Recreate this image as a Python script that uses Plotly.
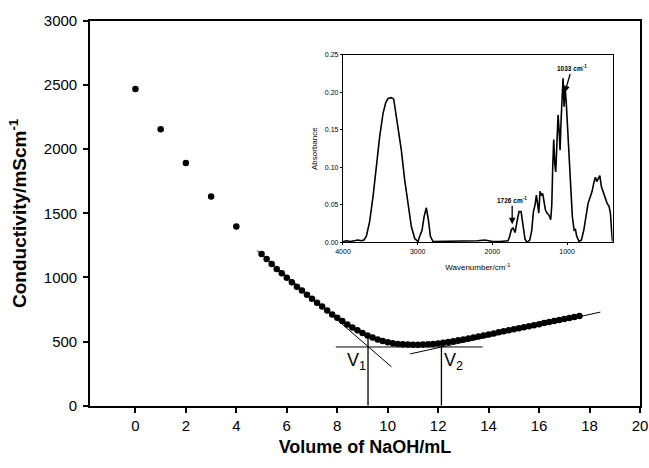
import plotly.graph_objects as go

FONT = "Liberation Sans, Arial, sans-serif"

# ---- main titration data ----
vol_sparse = [0, 1, 2, 3, 4]
cond_sparse = [2470, 2155, 1893, 1632, 1398]

vol_dense = [5.0, 5.2, 5.4, 5.6, 5.8, 6.0, 6.2, 6.4, 6.6, 6.8,
             7.0, 7.2, 7.4, 7.6, 7.8, 8.0, 8.2, 8.4, 8.6, 8.8,
             9.0, 9.2, 9.4, 9.6, 9.8, 10.0, 10.2, 10.4, 10.6, 10.8,
             11.0, 11.2, 11.4, 11.6, 11.8, 12.0, 12.2, 12.4, 12.6, 12.8,
             13.0, 13.2, 13.4, 13.6, 13.8, 14.0, 14.2, 14.4, 14.6, 14.8,
             15.0, 15.2, 15.4, 15.6, 15.8, 16.0, 16.2, 16.4, 16.6, 16.8,
             17.0, 17.2, 17.4, 17.6]
cond_dense = [1183, 1144, 1105, 1067, 1033, 997, 963, 928, 898, 865,
              834, 803, 774, 743, 712, 686, 660, 634, 609, 588,
              567, 547, 531, 516, 505, 495, 487, 481, 479, 477,
              476, 476, 477, 479, 482, 486, 491, 497, 503, 510,
              517, 524, 532, 540, 548, 556, 564, 572, 580, 588,
              596, 604, 612, 620, 628, 636, 644, 652, 660, 668,
              676, 684, 692, 700]

# construction lines (data coordinates)
tangent1_x = [4.83, 10.15]
tangent1_y = [1209, 303]
tangent2_x = [10.89, 18.43]
tangent2_y = [404, 730]
horiz_x = [7.94, 13.76]
horiz_y = [458, 458]
v1_x = [9.22, 9.22]
v1_y = [0, 541]
v2_x = [12.13, 12.13]
v2_y = [0, 471]

x_ticks = [0, 2, 4, 6, 8, 10, 12, 14, 16, 18, 20]
y_ticks = [0, 500, 1000, 1500, 2000, 2500, 3000]

# ---- inset IR spectrum ----
wavenumber = [4000, 3950, 3900, 3850, 3800, 3754, 3720, 3687, 3643, 3598, 3554, 3509,
              3464, 3429, 3397, 3353, 3321, 3295, 3272, 3250, 3219, 3174, 3129,
              3085, 3040, 2996, 2973, 2942, 2915, 2884, 2857, 2830, 2795,
              2600, 2400, 2200, 2100, 2000, 1900, 1790, 1768, 1746, 1723, 1696,
              1670, 1643, 1616, 1589, 1563, 1536, 1500, 1473, 1451, 1429, 1411,
              1393, 1379, 1362, 1344, 1326, 1308, 1290, 1268, 1241, 1219, 1205,
              1192, 1179, 1165, 1152, 1134, 1121, 1107, 1094, 1080, 1067, 1054,
              1040, 1027, 1013, 996, 973, 951, 929, 906, 888, 871, 839, 808,
              777, 750, 719, 688, 665, 643, 621, 603, 580, 562, 540, 518, 491,
              464, 438, 420, 402, 393]
absorbance = [0.001, 0.002, 0.001, 0.002, 0.003, 0.002, 0.003, 0.008, 0.028, 0.061, 0.101, 0.141,
              0.172, 0.186, 0.192, 0.193, 0.191, 0.174, 0.159, 0.148, 0.123, 0.083, 0.048,
              0.021, 0.005, 0.001, 0.008, 0.016, 0.034, 0.046, 0.030, 0.008, 0.001,
              0.001, 0.001, 0.002, 0.003, 0.001, 0.001, 0.002, 0.008, 0.017, 0.019, 0.013,
              0.028, 0.041, 0.041, 0.023, 0.004, 0.000, 0.003, 0.016, 0.041, 0.050, 0.063,
              0.050, 0.039, 0.068, 0.063, 0.065, 0.052, 0.043, 0.039, 0.036, 0.030, 0.050,
              0.101, 0.137, 0.105, 0.094, 0.137, 0.170, 0.150, 0.123, 0.164, 0.194, 0.219,
              0.181, 0.206, 0.190, 0.154, 0.114, 0.074, 0.034, 0.016, 0.017, 0.008, 0.001, 0.003,
              0.016, 0.034, 0.052, 0.061, 0.068, 0.079, 0.087, 0.081, 0.085, 0.089, 0.074, 0.068, 0.061,
              0.052, 0.048, 0.039, 0.012, 0.001]

ir_x_ticks = [4000, 3000, 2000, 1000]
ir_y_ticks = [0.00, 0.05, 0.10, 0.15, 0.20, 0.25]

fig = go.Figure()

line_style = dict(color="black", width=1)
for xs, ys in [(tangent1_x, tangent1_y), (tangent2_x, tangent2_y), (horiz_x, horiz_y)]:
    fig.add_trace(go.Scatter(x=xs, y=ys, mode="lines", line=line_style,
                             showlegend=False, hoverinfo="skip"))
for xs, ys in [(v1_x, v1_y), (v2_x, v2_y)]:
    fig.add_trace(go.Scatter(x=xs, y=ys, mode="lines", line=dict(color="black", width=1.3),
                             showlegend=False, hoverinfo="skip"))

fig.add_trace(go.Scatter(x=vol_sparse + vol_dense, y=cond_sparse + cond_dense,
                         mode="markers", marker=dict(color="black", size=6.5, line=dict(width=0)),
                         showlegend=False))

fig.add_trace(go.Scatter(x=wavenumber, y=absorbance, mode="lines",
                         line=dict(color="black", width=1.6),
                         xaxis="x2", yaxis="y2", showlegend=False))

fig.update_layout(
    width=649, height=468,
    margin=dict(l=0, r=0, t=0, b=0, autoexpand=False),
    paper_bgcolor="white", plot_bgcolor="rgba(0,0,0,0)",
    font=dict(family=FONT, color="black"),
    xaxis=dict(domain=[0.1387, 0.9861], range=[-1.8, 20], tickvals=x_ticks,
               automargin=False,
               showline=True, mirror=True, linecolor="black", linewidth=1.6,
               ticks="outside", ticklen=5, tickwidth=1.5, tickcolor="black",
               showgrid=False, zeroline=False,
               tickfont=dict(size=15, family=FONT, color="black"),
               title=dict(text="<b>Volume of NaOH/mL</b>", standoff=8,
                          font=dict(size=18, family=FONT, color="black"))),
    yaxis=dict(domain=[0.1331, 0.9551], range=[0, 3000], tickvals=y_ticks,
               automargin=False,
               showline=True, mirror=True, linecolor="black", linewidth=1.6,
               ticks="outside", ticklen=5, tickwidth=1.5, tickcolor="black",
               showgrid=False, zeroline=False,
               tickfont=dict(size=15, family=FONT, color="black"),
               ticklabelstandoff=3,
               title=dict(text="<b>Conductivity/mScm<sup>-1</sup></b>", standoff=12,
                          font=dict(size=19, family=FONT, color="black"))),
    xaxis2=dict(domain=[0.5285, 0.9440], range=[4000, 390], tickvals=ir_x_ticks,
                anchor="y2", automargin=False,
                showline=True, mirror=True, linecolor="black", linewidth=1.2,
                ticks="outside", ticklen=2, tickwidth=1, tickcolor="black",
                showgrid=False, zeroline=False,
                tickfont=dict(size=7, family=FONT, color="black"),
                title=dict(text="Wavenumber/cm<sup>-1</sup>", standoff=10,
                           font=dict(size=8, family=FONT, color="black"))),
    yaxis2=dict(domain=[0.4823, 0.8825], range=[0, 0.25], tickvals=ir_y_ticks,
                tickformat=".2f", anchor="x2", automargin=False,
                showline=True, mirror=True, linecolor="black", linewidth=1.2,
                ticks="outside", ticklen=2, tickwidth=1, tickcolor="black",
                showgrid=False, zeroline=False,
                tickfont=dict(size=7, family=FONT, color="black"),
                title=dict(text="Absorbance", standoff=6,
                           font=dict(size=8, family=FONT, color="black"))),
    annotations=[
        dict(x=8.78, y=345, xref="x", yref="y", text="V<sub>1</sub>", showarrow=False,
             font=dict(size=18, family=FONT, color="black")),
        dict(x=12.62, y=345, xref="x", yref="y", text="V<sub>2</sub>", showarrow=False,
             font=dict(size=18, family=FONT, color="black")),
        dict(x=1735, y=0.024, xref="x2", yref="y2", text="<b>1726 cm<sup>-1</sup></b>",
             showarrow=True, arrowhead=2, arrowsize=1, arrowwidth=1.3, arrowcolor="black",
             ax=0, ay=-24, font=dict(size=6.5, family=FONT, color="black")),
        dict(x=1031, y=0.200, xref="x2", yref="y2", text="<b>1033 cm<sup>-1</sup></b>",
             showarrow=True, arrowhead=2, arrowsize=1, arrowwidth=1.3, arrowcolor="black",
             ax=7, ay=-24, font=dict(size=6.5, family=FONT, color="black")),
    ],
)

fig.write_html("out.html")
